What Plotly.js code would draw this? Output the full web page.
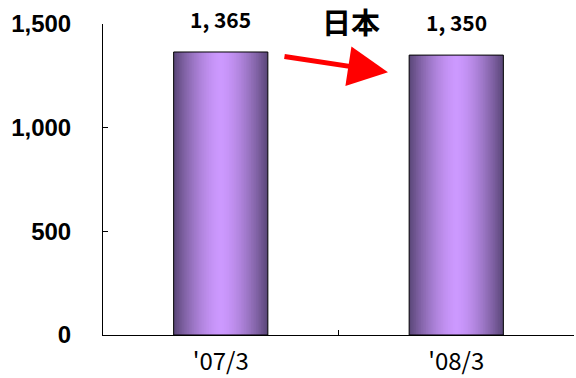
<!DOCTYPE html>
<html>
<head>
<meta charset="utf-8">
<script src="https://cdn.plot.ly/plotly-3.0.1.min.js"></script>
<style>
  html, body { margin: 0; padding: 0; background: #fff; }
  #chart { width: 576px; height: 378px; }
</style>
</head>
<body>
<div id="chart"></div>
<script>
// Fiscal period categories and values
const periods = ["'07/3", "'08/3"];
const values = [1365, 1350];
const yTicks = [0, 500, 1000, 1500];
const yTickLabels = ["0", "500", "1,000", "1,500"];
const regionLabel = "日本";

const BAR_WIDTH = 0.4;
const LAYERS = 28;
const light = [205, 153, 255];
const dark = [92, 72, 122];

function mix(t) {
  const k = Math.pow(t, 1.6);
  const c = light.map((v, i) => Math.round(v + (dark[i] - v) * k));
  return `rgb(${c[0]},${c[1]},${c[2]})`;
}

function fmt(v) {
  return v.toLocaleString('en-US').replace(',', ', ');
}

// Cylinder-like shading: nested overlay bars, darker at the edges
const traces = [];
for (let i = 0; i < LAYERS; i++) {
  const t = 1 - i / LAYERS;
  traces.push({
    type: 'bar',
    x: periods,
    y: values,
    width: BAR_WIDTH * t,
    marker: { color: mix(t), line: { width: 0 } },
    hoverinfo: 'skip',
    showlegend: false
  });
}
// Outline on top
traces.push({
  type: 'bar',
  x: periods,
  y: values,
  width: BAR_WIDTH,
  marker: { color: 'rgba(0,0,0,0)', line: { color: '#000', width: 1 } },
  hoverinfo: 'skip',
  showlegend: false
});

const valueAnnotations = periods.map((p, i) => ({
  x: p, y: values[i], xref: 'x', yref: 'y',
  text: fmt(values[i]),
  showarrow: false,
  yanchor: 'bottom',
  yshift: 16,
  font: { family: 'Noto Sans CJK JP', size: 21, color: '#000', weight: 'bold' }
}));

const layout = {
  width: 576, height: 378,
  margin: { l: 103, r: 2, t: 24, b: 43 },
  paper_bgcolor: '#fff', plot_bgcolor: '#fff',
  barmode: 'overlay',
  hovermode: false,
  showlegend: false,
  xaxis: {
    type: 'category',
    tickson: 'boundaries',
    ticks: 'inside', ticklen: 5, tickcolor: '#000', tickwidth: 1,
    showline: true, linecolor: '#000', linewidth: 1,
    showgrid: false, zeroline: false,
    ticklabelstandoff: 5,
    tickfont: { family: 'Noto Sans CJK JP', size: 24, color: '#000' }
  },
  yaxis: {
    range: [0, 1500],
    tickvals: yTicks, ticktext: yTickLabels,
    ticks: 'inside', ticklen: 5, tickcolor: '#000', tickwidth: 1,
    showline: true, linecolor: '#000', linewidth: 1,
    showgrid: false, zeroline: false,
    ticklabelstandoff: 26,
    tickfont: { family: 'Liberation Sans', size: 24, color: '#000', weight: 'bold' }
  },
  annotations: valueAnnotations.concat([
    {
      xref: 'paper', yref: 'paper', x: 0.527, y: 1.01,
      text: regionLabel, showarrow: false,
      xanchor: 'center', yanchor: 'middle',
      font: { family: 'Noto Sans CJK JP', size: 29, color: '#000', weight: 'bold' }
    },
    {
      xref: 'paper', yref: 'paper', x: 0.605, y: 0.845,
      ax: -105, ay: -16, axref: 'pixel', ayref: 'pixel',
      showarrow: true, arrowhead: 2, arrowsize: 1.6, arrowwidth: 5,
      arrowcolor: '#ff0000', text: ''
    }
  ])
};

Plotly.newPlot('chart', traces, layout, { displayModeBar: false, staticPlot: true });
</script>
</body>
</html>
